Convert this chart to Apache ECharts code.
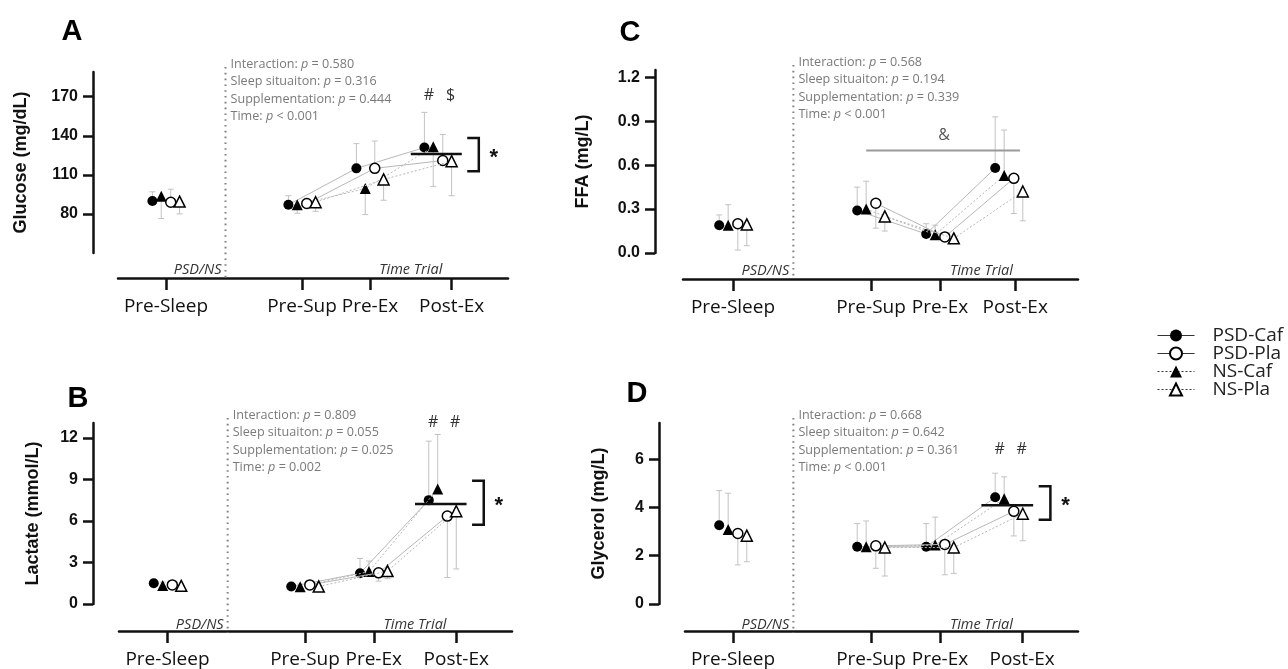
<!DOCTYPE html>
<html>
<head>
<meta charset="utf-8">
<script src="https://cdn.jsdelivr.net/npm/echarts@6/dist/echarts.min.js"></script>
<style>
  html, body { margin: 0; padding: 0; background: #fff; }
  #chart { width: 1288px; height: 669px; }
</style>
</head>
<body>
<div id="chart"></div>
<script>
// time points and where each group sits on the x value axis
const timePoints = ['Pre-Sleep', 'Pre-Sup', 'Pre-Ex', 'Post-Ex']
const groupPos = [0, 2, 3, 4]
// series order: PSD-Caf, NS-Caf, PSD-Pla, NS-Pla
const seriesNames = ['PSD-Caf', 'NS-Caf', 'PSD-Pla', 'NS-Pla']
const legendOrder = ['PSD-Caf', 'PSD-Pla', 'NS-Caf', 'NS-Pla']
const statLabels = ['Interaction', 'Sleep situaiton', 'Supplementation', 'Time']

// A - glucose (mg/dL)
const glucose = [
  [90, 87, 115, 131],
  [93.5, 87, 99.5, 131.5],
  [89, 88, 115, 121],
  [89.5, 89, 106.5, 120.5],
]
const glucoseSd = [
  [7, 7, 19, 27],
  [17, 6.5, 20, 30.5],
  [10, 4, 21, 20],
  [9.5, 7, 16, 26.5],
]
const glucoseErrDir = [1, -1, 1, -1]
const glucoseTicks = [80, 110, 140, 170]
const glucoseStats = ['= 0.580', '= 0.316', '= 0.444', '< 0.001']
const glucoseBracket = [112.7, 138.4]
const glucoseMarks = ['#', '$']

// B - lactate (mmol/L)
const lactate = [
  [1.5, 1.26, 2.22, 7.5],
  [1.33, 1.24, 2.34, 8.3],
  [1.38, 1.38, 2.25, 6.35],
  [1.31, 1.26, 2.38, 6.7],
]
const lactateSd = [
  [0.25, 0.2, 1.07, 4.26],
  [0.25, 0.2, 0.76, 3.94],
  [0.25, 0.2, 0.6, 4.44],
  [0.25, 0.2, 0.55, 4.17],
]
const lactateErrDir = [1, 1, -1, -1]
const lactateTicks = [0, 3, 6, 9, 12]
const lactateStats = ['= 0.809', '= 0.055', '= 0.025', '= 0.002']
const lactateBracket = [5.73, 8.9]
const lactateMarks = ['#', '#']

// C - FFA (mg/L)
const ffa = [
  [0.19, 0.29, 0.13, 0.58],
  [0.19, 0.3, 0.125, 0.53],
  [0.2, 0.34, 0.11, 0.51],
  [0.195, 0.25, 0.1, 0.42],
]
const ffaSd = [
  [0.07, 0.16, 0.07, 0.35],
  [0.14, 0.19, 0.065, 0.31],
  [0.18, 0.17, 0.03, 0.24],
  [0.145, 0.1, 0.035, 0.2],
]
const ffaErrDir = [1, 1, -1, -1]
const ffaTicks = [0, 0.3, 0.6, 0.9, 1.2]
const ffaStats = ['= 0.568', '= 0.194', '= 0.339', '< 0.001']
const ffaAmpLine = [1.93, 4.16, 0.7]

// D - glycerol (mg/L)
const glycerol = [
  [3.26, 2.37, 2.37, 4.42],
  [3.09, 2.37, 2.44, 4.36],
  [2.92, 2.41, 2.47, 3.84],
  [2.83, 2.34, 2.34, 3.74],
]
const glycerolSd = [
  [1.44, 0.96, 0.96, 1.0],
  [1.5, 1.07, 1.16, 0.91],
  [1.3, 0.93, 1.26, 1.02],
  [1.08, 1.18, 1.07, 1.12],
]
const glycerolErrDir = [1, 1, -1, -1]
const glycerolTicks = [0, 2, 4, 6]
const glycerolStats = ['= 0.668', '= 0.642', '= 0.361', '< 0.001']
const glycerolBracket = [3.49, 4.88]
const glycerolMarks = ['#', '#']

// look of each series (same order as seriesNames)
const seriesOffset = [-0.2, -0.07, 0.07, 0.2]
const seriesLook = [
  { symbol: 'circle', size: 10, fill: '#000', dash: 'solid' },
  { symbol: 'triangle', size: 11, fill: '#000', dash: [2, 2] },
  { symbol: 'circle', size: 10, fill: '#fff', dash: 'solid' },
  { symbol: 'triangle', size: 11, fill: '#fff', dash: [2, 2] },
]

// panel layout in pixels
const panels = [
  { letter: 'A', lx: 72, ly: 32, left: 118, right: 508, top: 72, bottom: 253, axisX: 93, axisY: 278,
    x0: 166, unit: 68, postTick: 4.2, yMin: 50, yMax: 189, nameGap: 63, name: 'Glucose (mg/dL)',
    values: glucose, sd: glucoseSd, dir: glucoseErrDir, ticks: glucoseTicks, stats: glucoseStats,
    bracket: glucoseBracket, marks: glucoseMarks, marksAt: 170.8 },
  { letter: 'B', lx: 78, ly: 399, left: 119, right: 512, top: 423, bottom: 606, axisX: 93, axisY: 633,
    x0: 167.5, unit: 68.75, postTick: 4.2, yMin: 0, yMax: 13.07, nameGap: 51, name: 'Lactate (mmol/L)',
    values: lactate, sd: lactateSd, dir: lactateErrDir, ticks: lactateTicks, stats: lactateStats,
    bracket: lactateBracket, marks: lactateMarks, marksAt: 13.1 },
  { letter: 'C', lx: 630, ly: 33, left: 683, right: 1078, top: 70, bottom: 253, axisX: 655, axisY: 279,
    x0: 733, unit: 69, postTick: 4.09, yMin: 0, yMax: 1.25, nameGap: 63, name: 'FFA (mg/L)',
    values: ffa, sd: ffaSd, dir: ffaErrDir, ticks: ffaTicks, stats: ffaStats, decimals: 1,
    ampLine: ffaAmpLine },
  { letter: 'D', lx: 637, ly: 394, left: 685, right: 1078, top: 423, bottom: 606, axisX: 659, axisY: 633,
    x0: 733, unit: 69, postTick: 4.19, yMin: 0, yMax: 7.5, nameGap: 51, name: 'Glycerol (mg/L)',
    values: glycerol, sd: glycerolSd, dir: glycerolErrDir, ticks: glycerolTicks, stats: glycerolStats,
    bracket: glycerolBracket, marks: glycerolMarks, marksAt: 6.4 },
]

const sansFont = 'Open Sans'
const boldFont = 'Liberation Sans'

const grids = []
const xAxes = []
const yAxes = []
const series = []

panels.forEach((p, i) => {
  const xTicks = [groupPos[0], groupPos[1], groupPos[2], p.postTick]
  grids.push({ left: p.left, top: p.top, width: p.right - p.left, height: p.bottom - p.top })
  xAxes.push({
    gridIndex: i,
    type: 'value',
    min: (p.left - p.x0) / p.unit,
    max: (p.right - p.x0) / p.unit,
    offset: p.axisY - p.bottom,
    splitLine: { show: false },
    axisLine: { show: true, onZero: false, lineStyle: { color: '#111', width: 2.5 } },
    axisTick: { show: true, customValues: xTicks, length: 12, lineStyle: { color: '#111', width: 2.5 } },
    axisLabel: {
      customValues: xTicks,
      margin: 19,
      fontFamily: sansFont,
      fontSize: 19,
      color: '#111',
      formatter: v => {
        const k = xTicks.findIndex(t => Math.abs(t - v) < 1e-6)
        return k < 0 ? '' : timePoints[k]
      },
    },
  })
  yAxes.push({
    gridIndex: i,
    type: 'value',
    min: p.yMin,
    max: p.yMax,
    offset: p.left - p.axisX,
    name: p.name,
    nameLocation: 'middle',
    nameGap: p.nameGap,
    nameTextStyle: { fontFamily: boldFont, fontWeight: 'bold', fontSize: 18, color: '#111' },
    splitLine: { show: false },
    axisLine: { show: true, onZero: false, lineStyle: { color: '#111', width: 2.5 } },
    axisTick: { show: true, customValues: p.ticks, length: 10, lineStyle: { color: '#111', width: 2.5 } },
    axisLabel: {
      customValues: p.ticks,
      margin: 15,
      fontFamily: boldFont,
      fontWeight: 'bold',
      fontSize: 16,
      color: '#111',
      formatter: v => (p.decimals ? v.toFixed(p.decimals) : String(v)),
    },
  })

  // error bars (one-sided, light grey with a small cap)
  const errData = []
  p.values.forEach((row, s) => {
    row.forEach((v, t) => {
      errData.push([groupPos[t] + seriesOffset[s], v, v + p.dir[s] * p.sd[s][t]])
    })
  })
  series.push({
    type: 'custom',
    xAxisIndex: i,
    yAxisIndex: i,
    z: 1,
    silent: true,
    clip: false,
    data: errData,
    renderItem: (params, api) => {
      const a = api.coord([api.value(0), api.value(1)])
      const b = api.coord([api.value(0), api.value(2)])
      const st = { stroke: '#c2c2c2', lineWidth: 1 }
      return {
        type: 'group',
        children: [
          { type: 'line', shape: { x1: a[0], y1: a[1], x2: b[0], y2: b[1] }, style: st },
          { type: 'line', shape: { x1: b[0] - 3, y1: b[1], x2: b[0] + 3, y2: b[1] }, style: st },
        ],
      }
    },
  })

  // group means: Pre-Sleep stands alone, the time-trial points are joined
  p.values.forEach((row, s) => {
    const look = seriesLook[s]
    const data = []
    row.forEach((v, t) => {
      data.push([groupPos[t] + seriesOffset[s], v])
      if (t === 0) data.push([1, '-'])
    })
    series.push({
      name: seriesNames[s],
      type: 'line',
      xAxisIndex: i,
      yAxisIndex: i,
      z: 3 + s,
      data: data,
      symbol: look.symbol,
      symbolSize: look.size,
      showSymbol: true,
      connectNulls: false,
      lineStyle: { color: '#b8b8b8', width: 1, type: look.dash },
      itemStyle: { color: look.fill, borderColor: '#000', borderWidth: look.fill === '#fff' ? 1.5 : 0 },
      emphasis: { disabled: true },
    })
  })
})

const chart = echarts.init(document.getElementById('chart'))
chart.setOption({
  backgroundColor: '#fff',
  animation: false,
  grid: grids,
  xAxis: xAxes,
  yAxis: yAxes,
  series: series,
  legend: {
    data: legendOrder,
    orient: 'vertical',
    left: 1152,
    top: 321,
    itemWidth: 37,
    itemHeight: 15,
    itemGap: -1,
    selectedMode: false,
    lineStyle: { color: '#333', width: 1 },
    textStyle: {
      fontFamily: sansFont, fontSize: 19, lineHeight: 15, color: '#222', padding: [0, 0, 0, 13],
    },
  },
})

// annotations, placed through the axes of each panel
const graphics = []
const lineEl = (x1, y1, x2, y2, style) => ({
  type: 'line', silent: true, z: 20,
  shape: { x1, y1, x2, y2 }, style,
})
const textEl = (x, y, text, style) => ({
  type: 'text', silent: true, z: 20, x, y,
  style: Object.assign({ text, fill: '#111', align: 'center', verticalAlign: 'middle' }, style),
})

panels.forEach((p, i) => {
  const px = (x, y) => chart.convertToPixel({ gridIndex: i }, [x, y])

  graphics.push(textEl(p.lx, p.ly, p.letter, {
    font: 'bold 29px "' + boldFont + '"', fill: '#000',
  }))

  // dotted divider between the night and the time trial
  const divX = px(0.875, p.yMin)[0]
  graphics.push(lineEl(divX, p.top - 5, divX, p.axisY, {
    stroke: '#808080', lineWidth: 2, lineDash: [1.6, 4.2],
  }))
  graphics.push(textEl(divX - 4, p.axisY - 8, 'PSD/NS', {
    align: 'right', font: 'italic 14.5px "' + sansFont + '"', fill: '#333',
  }))
  graphics.push(textEl(px(3.6, p.yMin)[0], p.axisY - 8, 'Time Trial', {
    font: 'italic 14.5px "' + sansFont + '"', fill: '#333',
  }))

  // p-values
  p.stats.forEach((s, k) => {
    graphics.push({
      type: 'text', silent: true, z: 20,
      x: divX + 5, y: p.top - 8 + k * 17.5,
      style: {
        text: statLabels[k] + ': {i|p} ' + s,
        font: '12.6px "' + sansFont + '"',
        fill: '#7a7a7a',
        align: 'left',
        verticalAlign: 'middle',
        rich: { i: { fontStyle: 'italic', fontSize: 12.6, fontFamily: sansFont, fill: '#7a7a7a' } },
      },
    })
  })

  // mean of the four groups at Post-Ex, bracket and star
  if (p.bracket) {
    const post = p.values.map(r => r[3])
    const mean = post.reduce((a, b) => a + b, 0) / post.length
    const m1 = px(groupPos[3] - 0.4, mean)
    const m2 = px(groupPos[3] + 0.35, mean)
    graphics.push(lineEl(m1[0], m1[1], m2[0], m2[1], { stroke: '#111', lineWidth: 2.5 }))
    const lo = px(groupPos[3] + 0.43, p.bracket[0])
    const hi = px(groupPos[3] + 0.6, p.bracket[1])
    graphics.push({
      type: 'polyline', silent: true, z: 20,
      shape: { points: [[lo[0], hi[1]], [hi[0], hi[1]], [hi[0], lo[1]], [lo[0], lo[1]]] },
      style: { stroke: '#111', lineWidth: 2.5, fill: null },
    })
    graphics.push(textEl(px(groupPos[3] + 0.82, 0)[0], (lo[1] + hi[1]) / 2 + 3, '*', {
      font: 'bold 22px "' + boldFont + '"',
    }))
    const cafX = groupPos[3] + (seriesOffset[0] + seriesOffset[1]) / 2
    const plaX = groupPos[3] + (seriesOffset[2] + seriesOffset[3]) / 2 + 0.05
    graphics.push(textEl(px(cafX, p.marksAt)[0], px(cafX, p.marksAt)[1], p.marks[0], {
      font: '16px "' + sansFont + '"', fill: '#333',
    }))
    graphics.push(textEl(px(plaX, p.marksAt)[0], px(plaX, p.marksAt)[1], p.marks[1], {
      font: '16px "' + sansFont + '"', fill: '#333',
    }))
  }

  // FFA: time effect line with ampersand
  if (p.ampLine) {
    const a = px(p.ampLine[0], p.ampLine[2])
    const b = px(p.ampLine[1], p.ampLine[2])
    graphics.push(lineEl(a[0], a[1], b[0], b[1], { stroke: '#9a9a9a', lineWidth: 2 }))
    graphics.push(textEl((a[0] + b[0]) / 2 + 1, a[1] - 15, '&', {
      font: '16px "' + sansFont + '"', fill: '#555',
    }))
  }
})

chart.setOption({ graphic: { elements: graphics } })
</script>
</body>
</html>
